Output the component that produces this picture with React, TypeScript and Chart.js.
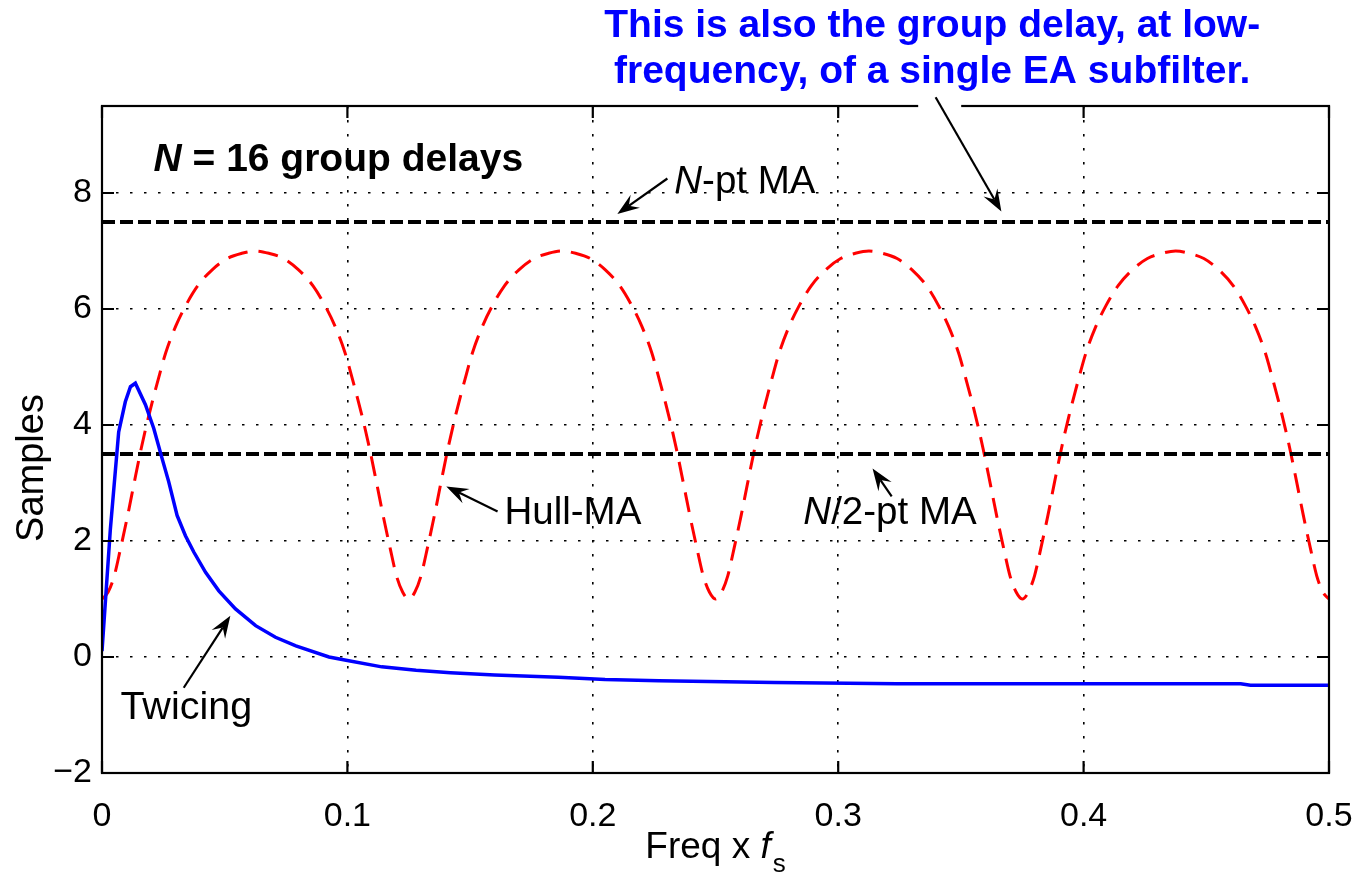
import React, { useEffect, useRef } from 'react';
import { Chart, registerables } from 'chart.js';

Chart.register(...registerables);

// ---------- data ----------
const xTicks = [0, 0.1, 0.2, 0.3, 0.4, 0.5];
const xTickLabels = ['0', '0.1', '0.2', '0.3', '0.4', '0.5'];
const yTicks = [-2, 0, 2, 4, 6, 8];
const yTickLabels = ['\u22122', '0', '2', '4', '6', '8'];

const maFreq = [0, 0.5];
const nptMA = [7.5, 7.5];
const halfNptMA = [3.5, 3.5];

const hullFreq = [
  0, 0.0025, 0.005, 0.0075, 0.0105, 0.013, 0.016, 0.019, 0.023, 0.026, 0.03, 0.034, 0.039, 0.045, 0.051, 0.057, 0.0625,
  0.068, 0.074, 0.08, 0.086, 0.091, 0.095, 0.099, 0.102, 0.106, 0.109, 0.112, 0.1145, 0.1175, 0.12, 0.1225, 0.125,
  0.1275, 0.13, 0.1325, 0.1355, 0.138, 0.141, 0.144, 0.148, 0.151, 0.155, 0.159, 0.164, 0.17, 0.176, 0.182, 0.1875,
  0.193, 0.199, 0.205, 0.211, 0.216, 0.22, 0.224, 0.227, 0.231, 0.234, 0.237, 0.2395, 0.2425, 0.245, 0.2475, 0.25,
  0.2525, 0.255, 0.2575, 0.2605, 0.263, 0.266, 0.269, 0.273, 0.276, 0.28, 0.284, 0.289, 0.295, 0.301, 0.307, 0.3125,
  0.318, 0.324, 0.33, 0.336, 0.341, 0.345, 0.349, 0.352, 0.356, 0.359, 0.362, 0.3645, 0.3675, 0.37, 0.3725, 0.375,
  0.3775, 0.38, 0.3825, 0.3855, 0.388, 0.391, 0.394, 0.398, 0.401, 0.405, 0.409, 0.414, 0.42, 0.426, 0.432, 0.4375,
  0.443, 0.449, 0.455, 0.461, 0.466, 0.47, 0.474, 0.477, 0.481, 0.484, 0.487, 0.4895, 0.4925, 0.495, 0.4975, 0.5,
];
const hullDelay = [
  1.0, 1.12, 1.4, 1.86, 2.45, 2.98, 3.6, 4.15, 4.8, 5.25, 5.7, 6.05, 6.4, 6.68, 6.87, 6.96, 7.0,
  6.96, 6.87, 6.68, 6.4, 6.05, 5.7, 5.25, 4.8, 4.15, 3.6, 2.98, 2.45, 1.86, 1.4, 1.12, 1.0,
  1.12, 1.4, 1.86, 2.45, 2.98, 3.6, 4.15, 4.8, 5.25, 5.7, 6.05, 6.4, 6.68, 6.87, 6.96, 7.0,
  6.96, 6.87, 6.68, 6.4, 6.05, 5.7, 5.25, 4.8, 4.15, 3.6, 2.98, 2.45, 1.86, 1.4, 1.12, 1.0,
  1.12, 1.4, 1.86, 2.45, 2.98, 3.6, 4.15, 4.8, 5.25, 5.7, 6.05, 6.4, 6.68, 6.87, 6.96, 7.0,
  6.96, 6.87, 6.68, 6.4, 6.05, 5.7, 5.25, 4.8, 4.15, 3.6, 2.98, 2.45, 1.86, 1.4, 1.12, 1.0,
  1.12, 1.4, 1.86, 2.45, 2.98, 3.6, 4.15, 4.8, 5.25, 5.7, 6.05, 6.4, 6.68, 6.87, 6.96, 7.0,
  6.96, 6.87, 6.68, 6.4, 6.05, 5.7, 5.25, 4.8, 4.15, 3.6, 2.98, 2.45, 1.86, 1.4, 1.12, 1.0,
];

const twicingFreq = [
  0, 0.0034, 0.0068, 0.0095, 0.0116, 0.0136, 0.0177, 0.0211, 0.0245, 0.0272, 0.0306, 0.034, 0.0374,
  0.0422, 0.0476, 0.0544, 0.0626, 0.0707, 0.079, 0.0925, 0.1, 0.114, 0.128, 0.142, 0.16, 0.186, 0.205,
  0.227, 0.274, 0.324, 0.4, 0.464, 0.468, 0.5,
];
const twicingDelay = [
  0.1, 2.2, 3.88, 4.4, 4.66, 4.72, 4.35, 3.94, 3.42, 3.02, 2.44, 2.09, 1.81,
  1.46, 1.14, 0.83, 0.54, 0.34, 0.19, 0.0, -0.06, -0.17, -0.23, -0.27, -0.31, -0.35, -0.39,
  -0.41, -0.44, -0.46, -0.46, -0.46, -0.485, -0.485,
];

// ---------- annotation anchors (data coordinates) ----------
const FONT = '"Liberation Sans", Arial, Helvetica, sans-serif';

const labelTitle = { f: 0.021, v: 8.38 };
const labelNpt = { f: 0.2332, v: 8.0 };
const arrowNpt = { f1: 0.2304, v1: 8.25, f2: 0.21, v2: 7.64 };
const blueNoteLines = ['This is also the group delay, at low-', 'frequency, of a single EA subfilter.'];
const blueNote = { f: 0.3383, v1: 10.69, v2: 9.89 };
const arrowBlue = { f1: 0.3397, v1: 9.65, f2: 0.3665, v2: 7.68 };
const labelHull = { f: 0.164, v: 2.3 };
const arrowHull = { f1: 0.1612, v1: 2.51, f2: 0.1403, v2: 2.94 };
const labelHalf = { f: 0.2858, v: 2.3 };
const arrowHalf = { f1: 0.3218, v1: 2.77, f2: 0.314, v2: 3.25 };
const labelTwicing = { f: 0.0075, v: -1.07 };
const arrowTwicing = { f1: 0.0333, v1: -0.53, f2: 0.0523, v2: 0.71 };

type Part = { t: string; italic?: boolean; bold?: boolean };

function drawRich(ctx: CanvasRenderingContext2D, parts: Part[], x: number, y: number, size: number, color: string) {
  ctx.fillStyle = color;
  ctx.textAlign = 'left';
  ctx.textBaseline = 'alphabetic';
  let cx = x;
  parts.forEach((p) => {
    ctx.font = `${p.italic ? 'italic ' : ''}${p.bold ? 'bold ' : ''}${size}px ${FONT}`;
    ctx.fillText(p.t, cx, y);
    cx += ctx.measureText(p.t).width;
  });
}

function drawArrow(ctx: CanvasRenderingContext2D, x1: number, y1: number, x2: number, y2: number) {
  const ang = Math.atan2(y2 - y1, x2 - x1);
  const c = Math.cos(ang);
  const s = Math.sin(ang);
  const L = 22;
  const W = 8;
  const N = 14;
  ctx.strokeStyle = '#000';
  ctx.fillStyle = '#000';
  ctx.lineWidth = 2.2;
  ctx.setLineDash([]);
  ctx.beginPath();
  ctx.moveTo(x1, y1);
  ctx.lineTo(x2 - c * N, y2 - s * N);
  ctx.stroke();
  const bx = x2 - c * L;
  const by = y2 - s * L;
  const nx = -s;
  const ny = c;
  ctx.beginPath();
  ctx.moveTo(x2, y2);
  ctx.lineTo(bx + nx * W, by + ny * W);
  ctx.lineTo(x2 - c * N, y2 - s * N);
  ctx.lineTo(bx - nx * W, by - ny * W);
  ctx.closePath();
  ctx.fill();
}

const overlayPlugin = {
  id: 'overlay',
  afterDraw(chart: any) {
    const { ctx, chartArea: a } = chart;
    const xs = chart.scales.x;
    const ys = chart.scales.y;
    const X = (f: number) => xs.getPixelForValue(f);
    const Y = (v: number) => ys.getPixelForValue(v);
    ctx.save();
    ctx.setLineDash([]);

    // axes box
    ctx.strokeStyle = '#000';
    ctx.lineWidth = 2.2;
    ctx.strokeRect(a.left, a.top, a.right - a.left, a.bottom - a.top);

    // inward tick marks
    ctx.beginPath();
    xTicks.forEach((t) => {
      const px = X(t);
      ctx.moveTo(px, a.bottom);
      ctx.lineTo(px, a.bottom - 12);
      ctx.moveTo(px, a.top);
      ctx.lineTo(px, a.top + 12);
    });
    yTicks.forEach((t) => {
      const py = Y(t);
      ctx.moveTo(a.left, py);
      ctx.lineTo(a.left + 12, py);
      ctx.moveTo(a.right, py);
      ctx.lineTo(a.right - 12, py);
    });
    ctx.stroke();

    // tick labels
    ctx.fillStyle = '#000';
    ctx.font = `34px ${FONT}`;
    ctx.textAlign = 'center';
    ctx.textBaseline = 'alphabetic';
    xTicks.forEach((t, i) => ctx.fillText(xTickLabels[i], X(t), a.bottom + 53));
    ctx.textAlign = 'right';
    ctx.textBaseline = 'middle';
    yTicks.forEach((t, i) => ctx.fillText(yTickLabels[i], a.left - 10, Y(t)));

    // y axis title
    ctx.save();
    ctx.translate(43, 468);
    ctx.rotate(-Math.PI / 2);
    ctx.font = `38px ${FONT}`;
    ctx.textAlign = 'center';
    ctx.textBaseline = 'alphabetic';
    ctx.fillText('Samples', 0, 0);
    ctx.restore();

    // x axis title: Freq x f_s
    {
      const size = 37;
      ctx.textBaseline = 'alphabetic';
      ctx.textAlign = 'left';
      ctx.font = `${size}px ${FONT}`;
      const w1 = ctx.measureText('Freq x ').width;
      ctx.font = `italic ${size}px ${FONT}`;
      const w2 = ctx.measureText('f').width;
      ctx.font = `26px ${FONT}`;
      const w3 = ctx.measureText('s').width;
      const total = w1 + w2 + 2 + w3;
      let sx = (a.left + a.right) / 2 - total / 2;
      const base = 858;
      ctx.font = `${size}px ${FONT}`;
      ctx.fillText('Freq x ', sx, base);
      sx += w1;
      ctx.font = `italic ${size}px ${FONT}`;
      ctx.fillText('f', sx, base);
      sx += w2 + 2;
      ctx.font = `26px ${FONT}`;
      ctx.fillText('s', sx, base + 14);
    }

    // in-plot annotations
    drawRich(ctx, [{ t: 'N', italic: true, bold: true }, { t: ' = 16 group delays', bold: true }], X(labelTitle.f), Y(labelTitle.v), 39, '#000');
    drawRich(ctx, [{ t: 'N', italic: true }, { t: '-pt MA' }], X(labelNpt.f), Y(labelNpt.v), 38.5, '#000');
    drawArrow(ctx, X(arrowNpt.f1), Y(arrowNpt.v1), X(arrowNpt.f2), Y(arrowNpt.v2));
    drawRich(ctx, [{ t: 'Hull-MA' }], X(labelHull.f), Y(labelHull.v), 38.5, '#000');
    drawArrow(ctx, X(arrowHull.f1), Y(arrowHull.v1), X(arrowHull.f2), Y(arrowHull.v2));
    drawRich(ctx, [{ t: 'N', italic: true }, { t: '/2-pt MA' }], X(labelHalf.f), Y(labelHalf.v), 38.5, '#000');
    drawArrow(ctx, X(arrowHalf.f1), Y(arrowHalf.v1), X(arrowHalf.f2), Y(arrowHalf.v2));
    drawRich(ctx, [{ t: 'Twicing' }], X(labelTwicing.f), Y(labelTwicing.v), 39.5, '#000');
    drawArrow(ctx, X(arrowTwicing.f1), Y(arrowTwicing.v1), X(arrowTwicing.f2), Y(arrowTwicing.v2));

    // blue note above the axes (its box hides a bit of the top border)
    ctx.fillStyle = '#fff';
    ctx.fillRect(X(blueNote.f) - 14, a.top - 3, 43, 6);
    ctx.fillStyle = '#0000ff';
    ctx.font = `bold 39px ${FONT}`;
    ctx.textAlign = 'center';
    ctx.textBaseline = 'alphabetic';
    ctx.fillText(blueNoteLines[0], X(blueNote.f), Y(blueNote.v1));
    ctx.fillText(blueNoteLines[1], X(blueNote.f), Y(blueNote.v2));
    drawArrow(ctx, X(arrowBlue.f1), Y(arrowBlue.v1), X(arrowBlue.f2), Y(arrowBlue.v2));

    ctx.restore();
  },
};

function pairs(xs: number[], ys: number[]) {
  return xs.map((x, i) => ({ x, y: ys[i] }));
}

export default function App() {
  const canvasRef = useRef<HTMLCanvasElement | null>(null);

  useEffect(() => {
    if (!canvasRef.current) return;
    const gridDash = [2.5, 11.5];
    const chart = new Chart(canvasRef.current, {
      type: 'line',
      data: {
        datasets: [
          {
            label: 'Twicing',
            data: pairs(twicingFreq, twicingDelay),
            borderColor: '#0000ff',
            borderWidth: 3.5,
            pointRadius: 0,
            tension: 0,
            fill: false,
          },
          {
            label: 'N-pt MA',
            data: pairs(maFreq, nptMA),
            borderColor: '#000000',
            borderWidth: 4,
            borderDash: [13, 5],
            pointRadius: 0,
            fill: false,
          },
          {
            label: 'N/2-pt MA',
            data: pairs(maFreq, halfNptMA),
            borderColor: '#000000',
            borderWidth: 4,
            borderDash: [13, 5],
            pointRadius: 0,
            fill: false,
          },
          {
            label: 'Hull-MA',
            data: pairs(hullFreq, hullDelay),
            borderColor: '#ff0000',
            borderWidth: 3,
            borderDash: [20, 11],
            pointRadius: 0,
            cubicInterpolationMode: 'monotone',
            fill: false,
          },
        ],
      } as any,
      options: {
        animation: false,
        responsive: true,
        maintainAspectRatio: false,
        events: [],
        layout: { padding: { left: 0, right: 40, top: 106, bottom: 0 } },
        plugins: {
          legend: { display: false },
          tooltip: { enabled: false },
          title: { display: false },
        },
        scales: {
          x: {
            type: 'linear',
            min: 0,
            max: 0.5,
            afterBuildTicks: (scale: any) => {
              scale.ticks = xTicks.map((v) => ({ value: v }));
            },
            afterFit: (scale: any) => {
              scale.height = 101;
            },
            ticks: { display: false },
            grid: { display: true, color: '#000', lineWidth: 1.6, drawTicks: false },
            border: { display: false, dash: gridDash },
          },
          y: {
            type: 'linear',
            min: -2,
            max: 9.5,
            afterBuildTicks: (scale: any) => {
              scale.ticks = yTicks.map((v) => ({ value: v }));
            },
            afterFit: (scale: any) => {
              scale.width = 102;
            },
            ticks: { display: false },
            grid: { display: true, color: '#000', lineWidth: 1.6, drawTicks: false },
            border: { display: false, dash: gridDash },
          },
        },
      } as any,
      plugins: [overlayPlugin],
    });
    return () => chart.destroy();
  }, []);

  return (
    <div style={{ position: 'fixed', left: 0, top: 0, width: 1369, height: 874, background: '#fff' }}>
      <canvas ref={canvasRef} />
    </div>
  );
}
